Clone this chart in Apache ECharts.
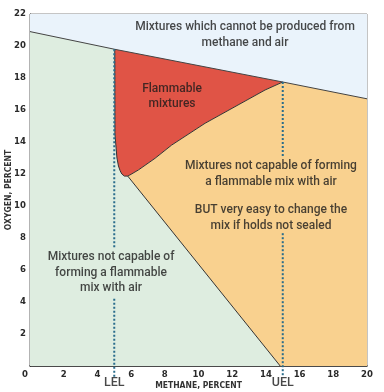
<!DOCTYPE html>
<html>
<head>
<meta charset="utf-8">
<style>html,body{margin:0;padding:0;background:#fff}#c{width:384px;height:392px}</style>
<script src="https://cdn.jsdelivr.net/npm/echarts@6/dist/echarts.min.js"></script>
</head>
<body>
<div id="c"></div>
<script>
// ---- data (methane %, oxygen %) ----
const xTicks = [0, 2, 4, 6, 8, 10, 12, 14, 16, 18, 20];
const yTicks = [0, 2, 4, 6, 8, 10, 12, 14, 16, 18, 20, 22];
const airLine = [[0, 20.9], [5, 19.8], [15, 17.75], [20, 16.7]];
const flammableLeftEdge = [[5.03, 19.8], [5.04, 14.5], [5.12, 13.5], [5.16, 13.0], [5.25, 12.5], [5.35, 12.2], [5.45, 12.0], [5.6, 11.87], [5.8, 11.87]];
const flammableUpperEdge = [[5.8, 11.87], [5.93, 11.94], [6.43, 12.25], [7.42, 12.98], [8.41, 13.81], [10.39, 15.17], [13.95, 17.25], [15, 17.75]];
const noseToAxis = [[5.8, 11.87], [14.85, 0]];
const lelValue = 5;
const uelValue = 15;
const lelSegments = [[[5, 19.8], [5, 7.4]], [[5, 4.2], [5, -0.7]]];
const uelSegments = [[[15, 17.75], [15, 13.0]], [[15, 8.3], [15, -0.7]]];
const annotations = [
  { pos: [12.76, 20.69], text: 'Mixtures which cannot be produced from\nmethane and air' },
  { pos: [8.43, 16.84], text: 'Flammable\nmixtures' },
  { pos: [14.3, 11.99], text: 'Mixtures not capable of forming\na flammable mix with air' },
  { pos: [14.3, 9.24], text: 'BUT very easy to change the\nmix if holds not sealed' },
  { pos: [4.81, 5.84], text: 'Mixtures not capable of\nforming a flammable\nmix with air' }
];
const limitLabels = [
  { pos: [lelValue, -1.08], text: 'LEL' },
  { pos: [uelValue, -1.08], text: 'UEL' }
];

// ---- polygons built from the arrays ----
const bluePoly = [[0, 22], [20, 22]].concat(airLine.slice().reverse());
const greenPoly = [[0, 0], [0, 20.9]].concat(flammableLeftEdge, [noseToAxis[1]]);
const redPoly = [flammableLeftEdge[0]].concat([airLine[2]], flammableUpperEdge.slice().reverse(), flammableLeftEdge.slice().reverse());
const orangePoly = flammableUpperEdge.concat([airLine[3], [20, 0], noseToAxis[1]]);

function polySeries(points, color) {
  return {
    type: 'custom',
    silent: true,
    z: 1,
    data: [0],
    renderItem: function (params, api) {
      return {
        type: 'polygon',
        shape: { points: points.map(p => api.coord(p)) },
        style: { fill: color, stroke: null }
      };
    }
  };
}
function lineSeries(points, color, width, type) {
  return {
    type: 'line', data: points, showSymbol: false, symbol: 'none', silent: true,
    clip: false, z: 3, animation: false,
    lineStyle: { color: color, width: width, type: type || 'solid' }
  };
}
const textFont = { fontFamily: 'Roboto', fontWeight: 500, fontSize: 12, color: '#1a1a1a', lineHeight: 15.5, align: 'center' };
const tickFont = { fontFamily: 'DejaVu Sans Condensed', fontSize: 9.5, color: '#2a2a2a', fontWeight: 'bold' };

const series = [
  polySeries(bluePoly, '#eaf3fb'),
  polySeries(greenPoly, '#deede0'),
  polySeries(redPoly, '#e05446'),
  polySeries(orangePoly, '#f9d18f'),
  lineSeries(airLine, '#444', 1),
  lineSeries(flammableLeftEdge, '#333', 1),
  lineSeries(flammableUpperEdge, '#333', 1),
  lineSeries(noseToAxis, '#333', 1)
];
lelSegments.concat(uelSegments).forEach(s => series.push(lineSeries(s, '#2a6d8c', 2, [2, 2])));
series.push({
  type: 'scatter', symbolSize: 0, clip: false, silent: true, z: 5,
  data: annotations.map(a => ({ value: a.pos, label: { formatter: a.text } })),
  label: Object.assign({ show: true, position: 'inside' }, textFont)
});
series.push({
  type: 'scatter', symbolSize: 0, clip: false, silent: true, z: 5,
  data: limitLabels.map(a => ({ value: a.pos, label: { formatter: a.text } })),
  label: { show: true, position: 'inside', fontFamily: 'Roboto', fontWeight: 500, fontSize: 12.5, color: '#1a1a1a' }
});

const chart = echarts.init(document.getElementById('c'), null, { renderer: 'canvas' });
chart.setOption({
  animation: false,
  backgroundColor: '#fff',
  grid: { left: 30, right: 17, top: 14, bottom: 26, show: true, borderColor: '#8a8a8a', borderWidth: 1, containLabel: false, outerBoundsMode: 'none' },
  xAxis: {
    type: 'value', min: xTicks[0], max: xTicks[xTicks.length - 1], interval: 2,
    name: 'METHANE, PERCENT', nameLocation: 'middle', nameGap: 15, nameMoveOverlap: false,
    nameTextStyle: { fontFamily: 'DejaVu Sans Condensed', fontSize: 8.5, color: '#333', fontWeight: 'bold' },
    axisLine: { lineStyle: { color: '#222', width: 1.5 } },
    axisTick: { show: false }, splitLine: { show: false },
    axisLabel: Object.assign({
      margin: 4,
      formatter: v => v === 0 ? '{z|0}' : String(v),
      rich: { z: Object.assign({ padding: [0, 10, 0, 0] }, tickFont) }
    }, tickFont)
  },
  yAxis: {
    type: 'value', min: yTicks[0], max: yTicks[yTicks.length - 1], interval: 2,
    name: 'OXYGEN, PERCENT', nameLocation: 'middle', nameGap: 17, nameRotate: 90, nameMoveOverlap: false,
    nameTextStyle: { fontFamily: 'DejaVu Sans Condensed', fontSize: 8.5, color: '#333', fontWeight: 'bold' },
    axisLine: { lineStyle: { color: '#222', width: 1.2 } },
    axisTick: { show: false }, splitLine: { show: false },
    axisLabel: Object.assign({
      margin: 4,
      formatter: v => v === 0 ? '' : String(v)
    }, tickFont)
  },
  series: series
});
</script>
</body>
</html>
